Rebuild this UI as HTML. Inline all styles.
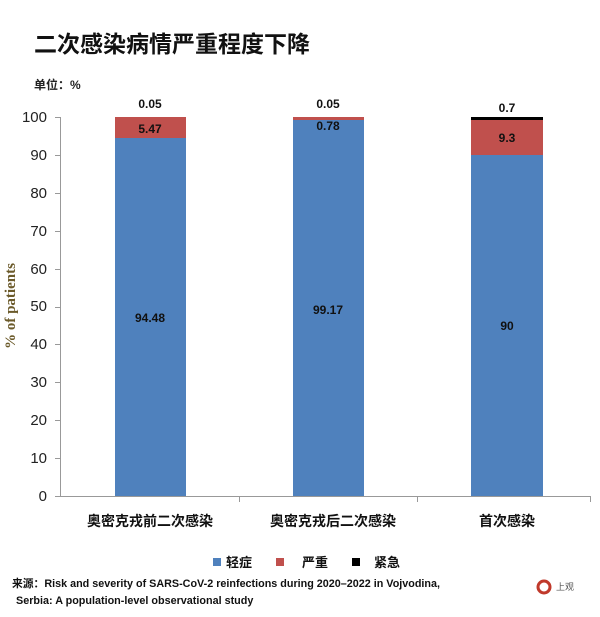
<!DOCTYPE html>
<html><head><meta charset="utf-8"><style>
body{margin:0;background:#fff;}
svg text{font-family:"Liberation Sans","Noto Sans CJK SC",sans-serif;}
</style></head><body>
<svg width="600" height="612" viewBox="0 0 600 612" xmlns="http://www.w3.org/2000/svg">
<rect width="600" height="612" fill="#fff"/>
<text x="34" y="52" font-size="23" font-weight="bold" fill="#111">二次感染病情严重程度下降</text>
<text x="34" y="89" font-size="12" font-weight="bold" fill="#222">单位：%</text>
<g font-size="15" fill="#222" text-anchor="end">
<text x="47" y="501">0</text><text x="47" y="463">10</text><text x="47" y="425">20</text>
<text x="47" y="387">30</text><text x="47" y="349">40</text><text x="47" y="311">50</text>
<text x="47" y="274">60</text><text x="47" y="236">70</text><text x="47" y="198">80</text>
<text x="47" y="160">90</text><text x="47" y="122">100</text>
</g>
<g stroke="#999" stroke-width="1">
<line x1="60.5" y1="117" x2="60.5" y2="496"/>
<line x1="55" y1="496.5" x2="590" y2="496.5"/>
<line x1="55" y1="117.5" x2="60" y2="117.5"/><line x1="55" y1="155.5" x2="60" y2="155.5"/>
<line x1="55" y1="193.5" x2="60" y2="193.5"/><line x1="55" y1="231.5" x2="60" y2="231.5"/>
<line x1="55" y1="269.5" x2="60" y2="269.5"/><line x1="55" y1="307.5" x2="60" y2="307.5"/>
<line x1="55" y1="344.5" x2="60" y2="344.5"/><line x1="55" y1="382.5" x2="60" y2="382.5"/>
<line x1="55" y1="420.5" x2="60" y2="420.5"/><line x1="55" y1="458.5" x2="60" y2="458.5"/>
<line x1="239.5" y1="496" x2="239.5" y2="502"/><line x1="417.5" y1="496" x2="417.5" y2="502"/>
<line x1="590.5" y1="496" x2="590.5" y2="502"/>
</g>
<text transform="translate(15,306) rotate(-90)" text-anchor="middle" font-size="15" font-weight="bold" fill="#6b5a2a" style="font-family:'Liberation Serif',serif">% of patients</text>
<rect x="115" y="138" width="71" height="358" fill="#4f81bd"/>
<rect x="115" y="117" width="71" height="21" fill="#c0504d"/>
<rect x="293" y="120" width="71" height="376" fill="#4f81bd"/>
<rect x="293" y="117" width="71" height="3" fill="#c0504d"/>
<rect x="471" y="155" width="72" height="341" fill="#4f81bd"/>
<rect x="471" y="120" width="72" height="35" fill="#c0504d"/>
<rect x="471" y="117" width="72" height="3" fill="#000"/>
<g font-size="12" font-weight="bold" fill="#111" text-anchor="middle">
<text x="150" y="108">0.05</text><text x="150" y="133">5.47</text><text x="150" y="322">94.48</text>
<text x="328" y="108">0.05</text><text x="328" y="130">0.78</text><text x="328" y="314">99.17</text>
<text x="507" y="112">0.7</text><text x="507" y="142">9.3</text><text x="507" y="330">90</text>
</g>
<g font-size="14" font-weight="bold" fill="#111" text-anchor="middle">
<text x="150" y="526">奥密克戎前二次感染</text>
<text x="333" y="526">奥密克戎后二次感染</text>
<text x="507" y="526">首次感染</text>
</g>
<rect x="213" y="558" width="8" height="8" fill="#4f81bd"/>
<text x="226" y="567" font-size="13" font-weight="bold" fill="#111">轻症</text>
<rect x="276" y="558" width="8" height="8" fill="#c0504d"/>
<text x="302" y="567" font-size="13" font-weight="bold" fill="#111">严重</text>
<rect x="352" y="558" width="8" height="8" fill="#000"/>
<text x="374" y="567" font-size="13" font-weight="bold" fill="#111">紧急</text>
<text x="12" y="587" font-size="10.8" font-weight="bold" fill="#111" textLength="428" lengthAdjust="spacingAndGlyphs">来源：Risk and severity of SARS-CoV-2 reinfections during 2020–2022 in Vojvodina,</text>
<text x="16" y="604" font-size="10.8" font-weight="bold" fill="#111">Serbia: A population-level observational study</text>
<circle cx="544" cy="587" r="6" fill="none" stroke="#c0392b" stroke-width="3"/>
<text x="556" y="590" font-size="9" fill="#555">上观</text>
</svg>
</body></html>
